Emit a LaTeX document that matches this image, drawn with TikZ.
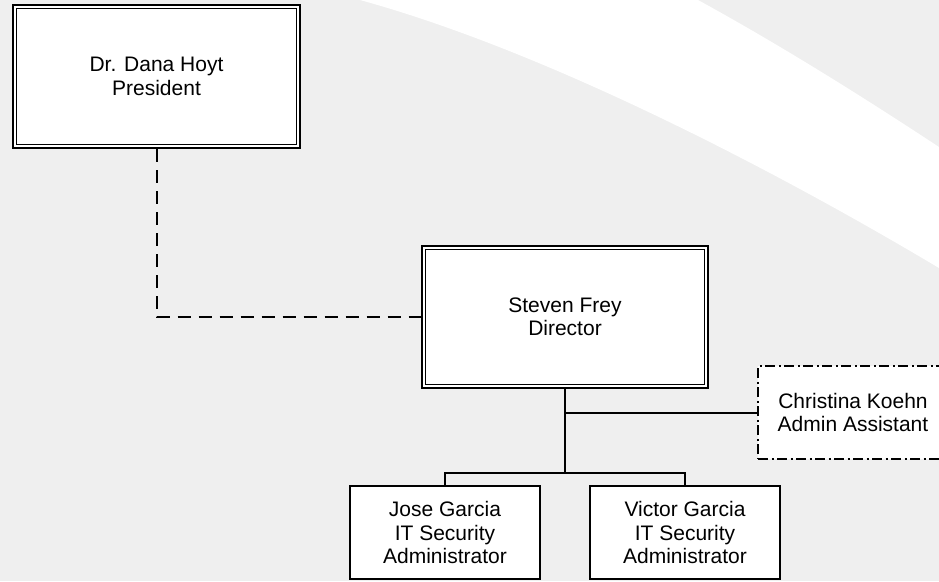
\documentclass[tikz,border=0pt]{standalone}
\usepackage{fontspec}
\setmainfont{Liberation Sans}
\definecolor{bggrey}{RGB}{239,239,239}
\tikzset{
  txt/.style={font=\fontsize{21}{23.5}\selectfont, align=center, inner sep=0pt},
  dblbox/.style={txt, draw=black, fill=white, line width=2.3pt},
  innerline/.style={draw=black, line width=1.3pt},
  plainbox/.style={txt, draw=black, fill=white, line width=2pt},
  dotbox/.style={txt, draw=black, fill=white, line width=2pt, dash pattern=on 10pt off 3.5pt on 2pt off 3.5pt},
  link/.style={draw=black, line width=2pt},
  dlink/.style={draw=black, line width=2pt, dash pattern=on 13pt off 8pt}
}
\begin{document}
\begin{tikzpicture}[x=1pt,y=-1pt]
\useasboundingbox (0,0) rectangle (939,581);
\clip (0,0) rectangle (939,581);
\fill[bggrey] (0,0) rectangle (939,581);
\fill[white] (360,0) .. controls (560,55) and (800,185) .. (939,268)
  -- (939,147) .. controls (860,95) and (780,45) .. (698,0) -- cycle;

\node[dblbox, minimum width=286.7pt, minimum height=142.7pt] (pres) at (156.5,76.5) {Dr. Dana Hoyt\\President};
\node[dblbox, minimum width=285.7pt, minimum height=141.7pt] (dir) at (565,317) {Steven Frey\\Director};
\draw[innerline] ([shift={(4.5,4.5)}]pres.north west) rectangle ([shift={(-4.5,-4.5)}]pres.south east);
\draw[innerline] ([shift={(4.5,4.5)}]dir.north west) rectangle ([shift={(-4.5,-4.5)}]dir.south east);
\node[dotbox, minimum width=190pt, minimum height=93pt] (chr) at (853,412.5) {Christina Koehn\\Admin Assistant};
\node[plainbox, minimum width=190pt, minimum height=93pt] (jose) at (445,532.5) {Jose Garcia\\IT Security\\Administrator};
\node[plainbox, minimum width=190pt, minimum height=93pt] (vic) at (685,532.5) {Victor Garcia\\IT Security\\Administrator};

\coordinate (bus) at (565,473);
\draw[dlink] (pres.south) |- (dir.west);
\draw[link] (dir.south) |- (chr.west);
\draw[link] (dir.south) -- (bus);
\draw[link] (jose.north) |- (bus) -| (vic.north);
\end{tikzpicture}
\end{document}
